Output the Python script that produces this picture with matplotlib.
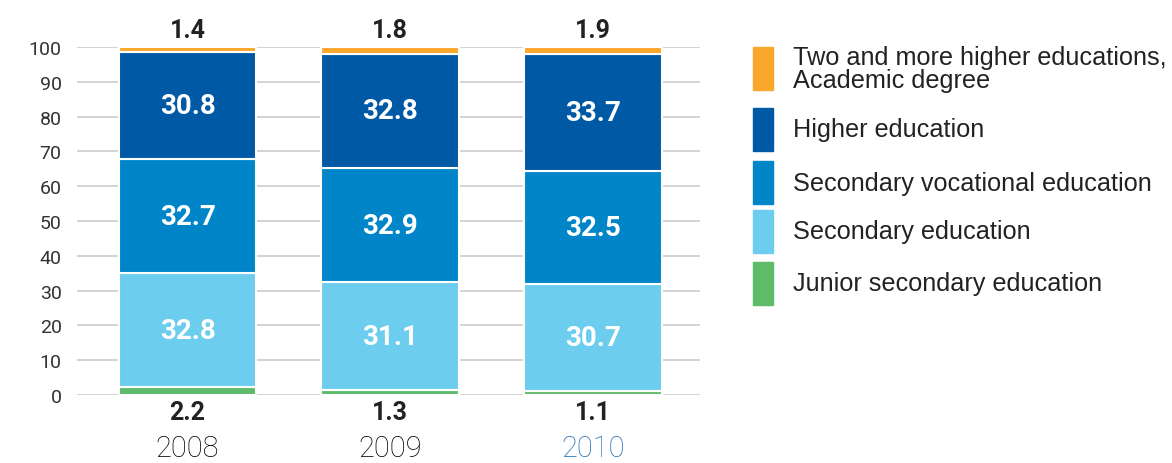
import numpy as np
import matplotlib.pyplot as plt
from matplotlib.patches import Rectangle

years = ['2008', '2009', '2010']
junior = [2.2, 1.3, 1.1]
secondary = [32.8, 31.1, 30.7]
vocational = [32.7, 32.9, 32.5]
higher = [30.8, 32.8, 33.7]
two_more = [1.4, 1.8, 1.9]

labels = ['Two and more higher educations,\nAcademic degree', 'Higher education',
          'Secondary vocational education', 'Secondary education',
          'Junior secondary education']
colors = ['#F9A82B', '#0059A5', '#0086C8', '#6CCDEE', '#5DBB6A']

fig = plt.figure(figsize=(11.72, 4.64), dpi=100)
ax = fig.add_axes([77 / 1172, 1 - 396 / 464, 623 / 1172, 348 / 464])

x = np.arange(len(years))
width = 0.68
series = [junior, secondary, vocational, higher, two_more]
series_colors = colors[::-1]

bottom = np.zeros(len(years))
for vals, c in zip(series, series_colors):
    ax.bar(x, vals, width, bottom=bottom, color=c, edgecolor='white', linewidth=1.5, zorder=3)
    bottom += np.array(vals)

# values inside the three big segments
bottom = np.array(junior, dtype=float)
for vals in [secondary, vocational, higher]:
    for i, v in enumerate(vals):
        ax.text(x[i], bottom[i] + v / 2, f'{v:.1f}', ha='center', va='center',
                color='white', fontsize=20, fontweight='bold', family='Roboto', zorder=4)
    bottom += np.array(vals)

# small segments labelled above and below the bars
for i in range(len(years)):
    ax.annotate(f'{two_more[i]:.1f}', (x[i], 100), xytext=(0, 12), textcoords='offset points',
                ha='center', va='center', fontsize=18, fontweight='bold', color='#222222',
                family='Roboto', annotation_clip=False)
    ax.annotate(f'{junior[i]:.1f}', (x[i], 0), xytext=(0, -12.5), textcoords='offset points',
                ha='center', va='center', fontsize=18, fontweight='bold', color='#222222',
                family='Roboto', annotation_clip=False)
    ax.annotate(years[i], (x[i], 0), xytext=(0, -38), textcoords='offset points',
                ha='center', va='center', fontsize=21, fontweight='light',
                color='#1F6FB2' if i == len(years) - 1 else '#000000',
                family='Roboto', annotation_clip=False)

ax.set_xlim(-0.546, 2.53)
ax.set_ylim(0, 100)
ax.set_yticks(np.arange(0, 101, 10))
ax.set_xticks([])
ax.grid(axis='y', color='#CCCCCC', linewidth=1.2, zorder=0)
for s in ax.spines.values():
    s.set_visible(False)
ax.tick_params(axis='y', length=0, pad=11, labelsize=14, labelcolor='#333333')
for t in ax.get_yticklabels():
    t.set_family('Roboto')

# legend drawn in figure pixels
tops = [48, 109, 162, 211, 263]
for lab, c, top in zip(labels, colors, tops):
    fig.patches.append(Rectangle((753 / 1172, 1 - (top + 43) / 464), 20 / 1172, 43 / 464,
                                 transform=fig.transFigure, color=c))
    fig.text(793 / 1172, 1 - (top + 21.5) / 464, lab, ha='left', va='center',
             fontsize=18.2, color='#222222', family='Liberation Sans', linespacing=0.92)

fig.savefig('out.png', dpi=100)
